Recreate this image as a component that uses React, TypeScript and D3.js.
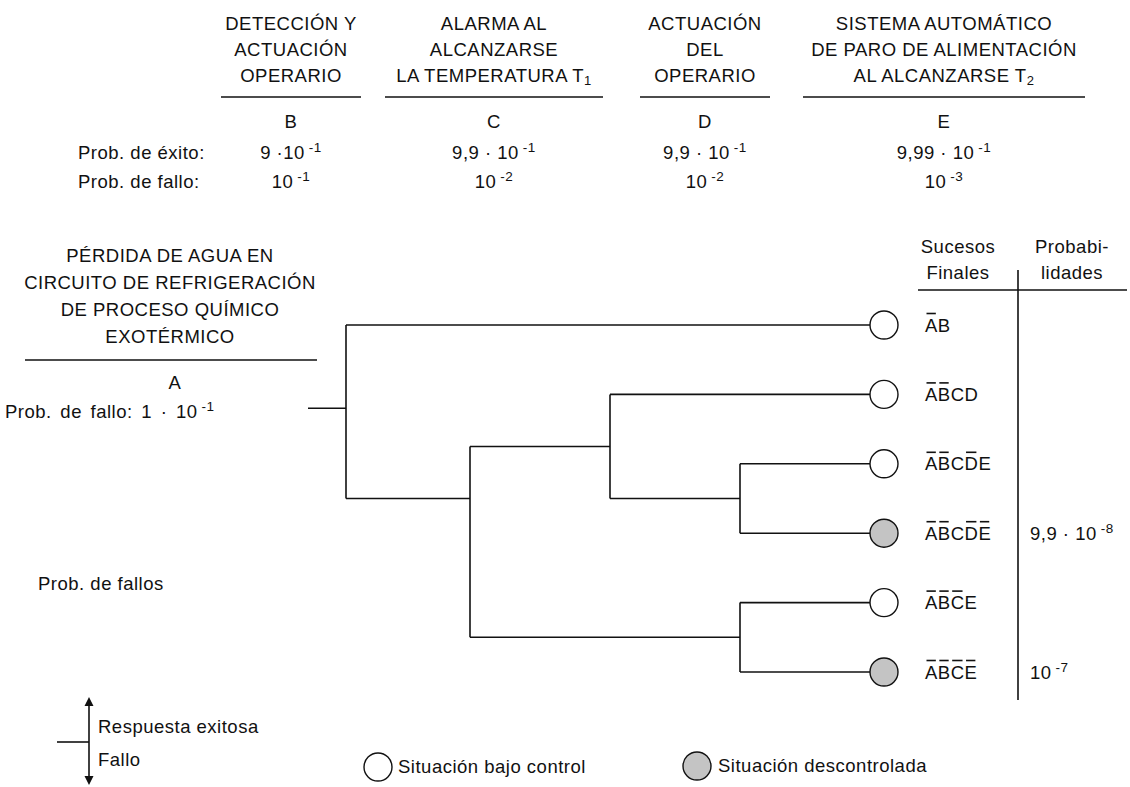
import React from 'react';
import * as d3 from 'd3';

const W = 1130;
const H = 787;
const FONT = 'Arial, "Liberation Sans", sans-serif';
const FS = 18.5;
const LS = 0.5;

// event columns of the tree
const eventIds = ['B', 'C', 'D', 'E'];
const eventTitles = [
  ['DETECCIÓN Y', 'ACTUACIÓN', 'OPERARIO'],
  ['ALARMA AL', 'ALCANZARSE', 'LA TEMPERATURA T'],
  ['ACTUACIÓN', 'DEL', 'OPERARIO'],
  ['SISTEMA AUTOMÁTICO', 'DE PARO DE ALIMENTACIÓN', 'AL ALCANZARSE T'],
];
const eventSubs = ['', '1', '', '2'];
const successBase = ['9 ·10', '9,9 · 10', '9,9 · 10', '9,99 · 10'];
const successExp = ['-1', '-1', '-1', '-1'];
const failBase = ['10', '10', '10', '10'];
const failExp = ['-1', '-2', '-2', '-3'];

// initiating event
const initTitle = ['PÉRDIDA DE AGUA EN', 'CIRCUITO DE REFRIGERACIÓN', 'DE PROCESO QUÍMICO', 'EXOTÉRMICO'];
const initId = 'A';
const initFailBase = 'Prob. de fallo: 1 · 10';
const initFailExp = '-1';

// final events, lowercase = overlined letter
const outcomeCodes = ['aB', 'abCD', 'abCdE', 'abCde', 'abcE', 'abce'];
const outcomeControlled = [true, true, true, false, true, false];
const outcomeProbBase = ['', '', '', '9,9 · 10', '', '10'];
const outcomeProbExp = ['', '', '', '-8', '', '-7'];

type TNode = { event?: string; row: number; leaf?: number; children?: TNode[] };
const leaf = (i: number): TNode => ({ leaf: i, row: i });
const tree: TNode = {
  event: 'B', row: 1.2, children: [
    leaf(0),
    {
      event: 'C', row: 2.5, children: [
        { event: 'D', row: 1.75, children: [leaf(1), { event: 'E', row: 2.5, children: [leaf(2), leaf(3)] }] },
        { event: 'E', row: 4.5, children: [leaf(4), leaf(5)] },
      ],
    },
  ],
};

// layout
const headX = d3.scaleOrdinal<string, number>().domain(eventIds).range([291, 494, 705, 944]);
const headHalf = d3.scaleOrdinal<string, number>().domain(eventIds).range([70, 109, 65, 141]);
const branchX = d3.scaleOrdinal<string, number>().domain(eventIds).range([346, 470, 610, 740]);
const rowY = d3.scaleLinear().domain([0, 5]).range([325, 672]);
const leafX = 884;
const R = 14;
const rootX = 308;

let ctx: CanvasRenderingContext2D | null = null;
function measure(s: string) {
  if (!ctx) ctx = document.createElement('canvas').getContext('2d');
  ctx!.font = `${FS}px Arial`;
  return ctx!.measureText(s).width + s.length * LS;
}

function Pow({ x, y, base, exp, anchor = 'start', ws = 0 }: any) {
  return (
    <text x={x} y={y} textAnchor={anchor} wordSpacing={ws}>
      {base}
      <tspan dx={4} dy={-7} fontSize={13.5}>{exp}</tspan>
    </text>
  );
}

function Overlined({ x, y, code }: { x: number; y: number; code: string }) {
  const letters = code.toUpperCase();
  return (
    <g>
      <text x={x} y={y}>{letters}</text>
      {code.split('').map((c, i) => {
        if (c === c.toUpperCase()) return null;
        const x0 = x + measure(letters.slice(0, i));
        const w = measure(letters[i]) - LS;
        return <line key={i} x1={x0 + 1.5} x2={x0 + w - 1.5} y1={y - 18} y2={y - 18} stroke="#111" strokeWidth={1.6} />;
      })}
    </g>
  );
}

function renderTree(n: TNode, out: JSX.Element[]) {
  if (!n.children) return;
  const x = branchX(n.event!);
  const rows = n.children.map(c => c.row);
  out.push(<line key={`v${out.length}`} x1={x} x2={x} y1={rowY(d3.min(rows)!)} y2={rowY(d3.max(rows)!)} />);
  n.children.forEach(c => {
    const y = rowY(c.row);
    const x2 = c.children ? branchX(c.event!) : leafX - R;
    out.push(<line key={`h${out.length}`} x1={x} x2={x2} y1={y} y2={y} />);
    renderTree(c, out);
  });
}

export default function App() {
  const lines: JSX.Element[] = [];
  renderTree(tree, lines);

  return (
    <svg width={W} height={H} style={{ position: 'absolute', left: 0, top: 0, background: '#fff' }}
      fontFamily={FONT} fontSize={FS} letterSpacing={LS} fill="#111">
      <rect width={W} height={H} fill="#fff" />

      {/* event headers */}
      {eventIds.map((id, i) => {
        const cx = headX(id);
        return (
          <g key={id}>
            {eventTitles[i].map((t, j) => (
              <text key={j} x={cx} y={30 + j * 26} textAnchor="middle">
                {t}
                {j === 2 && eventSubs[i] && <tspan fontSize={13} dy={3}>{eventSubs[i]}</tspan>}
              </text>
            ))}
            <line x1={cx - headHalf(id)} x2={cx + headHalf(id)} y1={97} y2={97} stroke="#111" strokeWidth={1.6} />
            <text x={cx} y={128} textAnchor="middle">{id}</text>
            <Pow x={cx} y={159} base={successBase[i]} exp={successExp[i]} anchor="middle" />
            <Pow x={cx} y={188} base={failBase[i]} exp={failExp[i]} anchor="middle" />
          </g>
        );
      })}
      <text x={78} y={159}>Prob. de éxito:</text>
      <text x={78} y={188}>Prob. de fallo:</text>

      {/* initiating event */}
      {initTitle.map((t, j) => (
        <text key={j} x={170} y={262 + j * 27} textAnchor="middle">{t}</text>
      ))}
      <line x1={25} x2={317} y1={360} y2={360} stroke="#111" strokeWidth={1.6} />
      <text x={175} y={389} textAnchor="middle">{initId}</text>
      <Pow x={5} y={418} base={initFailBase} exp={initFailExp} ws={3} />
      <text x={38} y={590}>Prob. de fallos</text>

      {/* tree */}
      <g stroke="#111" strokeWidth={1.6}>
        <line x1={rootX} x2={branchX('B')} y1={rowY(tree.row)} y2={rowY(tree.row)} />
        {lines}
      </g>

      {/* final events */}
      <text x={958} y={253} textAnchor="middle">Sucesos</text>
      <text x={958} y={279} textAnchor="middle">Finales</text>
      <text x={1072} y={253} textAnchor="middle">Probabi-</text>
      <text x={1072} y={279} textAnchor="middle">lidades</text>
      <line x1={918} x2={1127} y1={290} y2={290} stroke="#111" strokeWidth={1.6} />
      <line x1={1018} x2={1018} y1={270} y2={700} stroke="#111" strokeWidth={1.6} />
      {outcomeCodes.map((code, i) => {
        const y = rowY(i);
        return (
          <g key={code}>
            <circle cx={leafX} cy={y} r={R} fill={outcomeControlled[i] ? '#fff' : '#c4c4c4'} stroke="#111" strokeWidth={1.4} />
            <Overlined x={925} y={y + 6.5} code={code} />
            {outcomeProbBase[i] && <Pow x={1030} y={y + 6.5} base={outcomeProbBase[i]} exp={outcomeProbExp[i]} />}
          </g>
        );
      })}

      {/* legend */}
      <g stroke="#111" strokeWidth={1.6}>
        <line x1={89} x2={89} y1={704} y2={778} />
        <line x1={57} x2={89} y1={742} y2={742} />
      </g>
      <path d="M89,697 L84.5,706 L93.5,706 Z M89,785 L84.5,776 L93.5,776 Z" fill="#111" />
      <text x={98} y={733}>Respuesta exitosa</text>
      <text x={98} y={766}>Fallo</text>
      <circle cx={378} cy={767} r={R} fill="#fff" stroke="#111" strokeWidth={1.4} />
      <text x={398} y={773}>Situación bajo control</text>
      <circle cx={697} cy={766} r={R} fill="#c4c4c4" stroke="#111" strokeWidth={1.4} />
      <text x={718} y={772}>Situación descontrolada</text>
    </svg>
  );
}
